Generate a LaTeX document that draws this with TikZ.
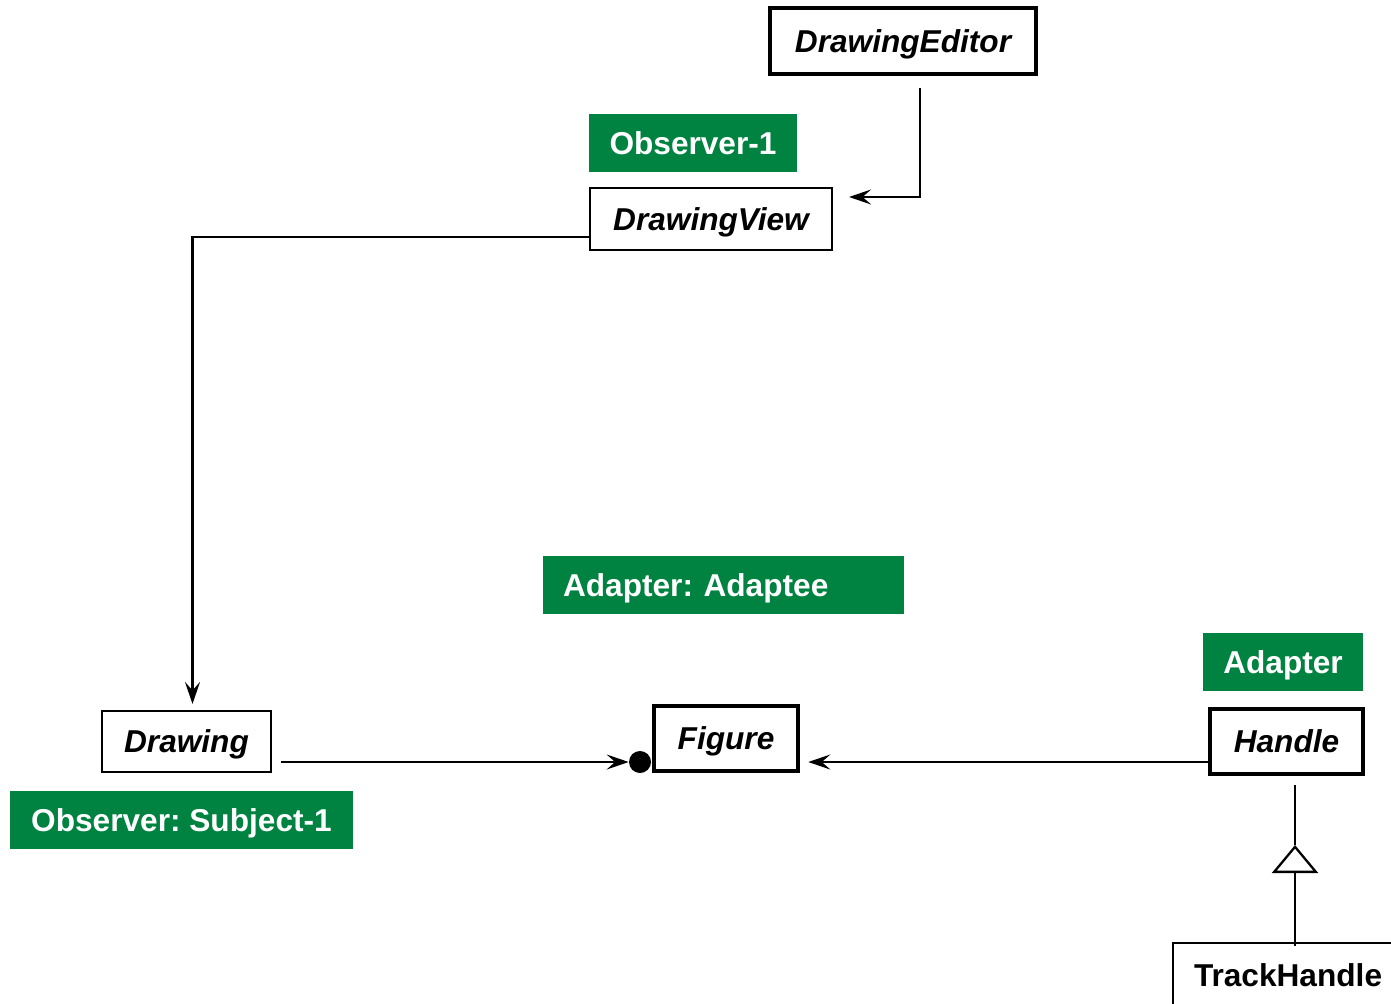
\documentclass[tikz,border=0pt]{standalone}
\usepackage{fontspec}
\setmainfont{Liberation Sans}
\usetikzlibrary{arrows.meta}
\definecolor{patgreen}{RGB}{0,130,64}

\begin{document}
\begin{tikzpicture}[x=0.02cm, y=-0.02cm,
    every node/.style={font=\fontsize{18}{21}\selectfont\bfseries\frenchspacing},
    cls/.style={draw, line width=1.2pt, fill=white, inner sep=0pt, text height=0.5cm, text depth=0.045cm, font=\fontsize{18}{21}\selectfont\bfseries\itshape},
    abscls/.style={cls, line width=2.6pt},
    pat/.style={fill=patgreen, text=white, inner sep=0pt, text height=0.5cm, text depth=0.045cm, minimum height=1.16cm},
    arr/.style={line width=1.3pt, -{Stealth[length=0.44cm, width=0.3cm, inset=0.17cm]}},
    inh/.style={line width=1.3pt, -{Triangle[open, length=0.56cm, width=0.92cm]}}]
        \useasboundingbox (0,0) rectangle (1391,1003);
        % Classes
        \node[abscls, minimum width=5.32cm, minimum height=1.32cm] (editor) at (903,41) {DrawingEditor};
        \node[cls, minimum width=4.84cm, minimum height=1.24cm] (view) at (711,219) {DrawingView};
        \node[cls, minimum width=3.38cm, minimum height=1.22cm] (drawing) at (186.5,741.5) {Drawing};
        \node[abscls, minimum width=2.88cm, minimum height=1.3cm] (figure) at (726,738.5) {Figure};
        \node[abscls, minimum width=3.06cm, minimum height=1.3cm] (handle) at (1286.5,741.5) {Handle};
        \node[cls, font=\fontsize{18}{21}\selectfont\bfseries, anchor=north west, minimum width=4.6cm, minimum height=1.5cm, text height=0.45cm, text depth=0.23cm] (track) at (1172,942) {TrackHandle};
        \node[circle, fill, inner sep=0pt, minimum size=0.44cm] (dot) at (640,762) {};
        % Pattern labels
        \node[pat, minimum width=4.16cm] (obsone) at (693,143) {Observer-1};
        \node[pat, text width=6.42cm, inner xsep=0.4cm, align=left] (adaptee) at (723.5,585) {Adapter: Adaptee};
        \node[pat, minimum width=3.2cm] (adapter) at (1283,662) {Adapter};
        \node[pat, minimum width=6.86cm] (subject) at (181.5,820) {Observer: Subject-1};
        % Connectors
        \draw[arr] ([shift={(17,12)}]editor.south) |- ([shift={(16,-22)}]view.east);
        \draw[arr] ([shift={(0,18)}]view.west) -| ([shift={(6,-6)}]drawing.north);
        \draw[arr, shorten <=0.18cm] (drawing.east |- dot.west) -- (dot.west);
        \draw[arr, shorten >=0.16cm] (handle.west |- dot) -- (figure.east |- dot);
        \coordinate (tip) at (1295,845);
        \draw[inh] ([yshift=-2]track.north -| tip) -- (tip);
        \draw[line width=1.3pt, shorten >=0.18cm] (tip) -- (handle.south -| tip);
\end{tikzpicture}
\end{document}
